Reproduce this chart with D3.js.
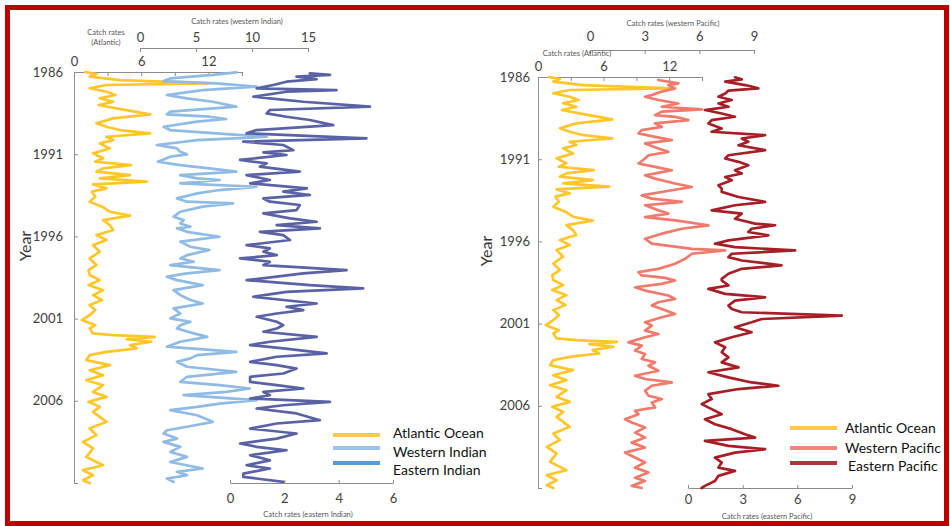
<!DOCTYPE html>
<html lang="en">
<head>
<meta charset="UTF-8">
<title>Catch rates by ocean</title>
<script src="https://d3js.org/d3.v7.min.js"></script>
<style>
  body { margin: 0; background: #fff; }
  svg { display: block; font-family: Lato, "Open Sans", sans-serif; }
  .axis path, .axis line { stroke: #8c8c8c; stroke-width: 1; }
  .axis text { fill: #404040; font-size: 13px; font-family: Lato, sans-serif; }
  .small-title { fill: #555; font-size: 7.5px; }
  .year-title { fill: #333; font-size: 16px; }
  .series { fill: none; stroke-width: 2.7; stroke-linejoin: round; stroke-linecap: round; }
  .legend text { font-size: 14px; fill: #111; }
</style>
</head>
<body>
<div id="chart"></div>
<script>
// [year, catch rate] turning points
const atlantic = [[1986.00,1.0],[1986.12,2.0],[1986.28,1.4],[1986.49,4.1],[1986.69,12.1],[1986.79,2.9],[1986.99,1.4],[1987.20,2.9],[1987.40,3.7],[1987.60,2.3],[1987.81,3.5],[1988.01,2.2],[1988.21,3.8],[1988.58,6.8],[1988.82,3.5],[1989.12,2.0],[1989.33,2.9],[1989.53,4.1],[1989.73,6.8],[1989.94,2.9],[1990.14,3.5],[1990.34,2.3],[1990.65,3.2],[1990.95,1.7],[1991.25,2.6],[1991.46,1.9],[1991.66,5.1],[1991.86,2.6],[1992.06,2.0],[1992.27,5.0],[1992.47,2.3],[1992.67,6.5],[1992.84,1.7],[1993.08,2.9],[1993.28,1.6],[1993.59,1.9],[1993.89,1.4],[1994.19,2.5],[1994.50,3.2],[1994.74,5.0],[1995.01,2.6],[1995.31,3.2],[1995.61,3.5],[1995.92,2.0],[1996.22,2.9],[1996.53,1.7],[1996.93,2.3],[1997.34,1.4],[1997.74,2.0],[1998.05,1.3],[1998.35,1.4],[1998.66,2.3],[1998.96,1.3],[1999.27,2.6],[1999.57,1.7],[1999.87,2.5],[2000.18,1.4],[2000.48,1.9],[2000.79,1.4],[2001.09,0.7],[2001.40,1.9],[2001.60,1.4],[2001.90,1.7],[2002.00,3.5],[2002.11,7.2],[2002.25,4.7],[2002.41,6.9],[2002.61,5.0],[2002.81,5.6],[2003.02,2.9],[2003.22,1.4],[2003.53,1.1],[2003.83,3.2],[2004.14,1.4],[2004.44,2.6],[2004.75,1.1],[2005.05,2.6],[2005.46,1.7],[2005.76,2.9],[2006.06,1.3],[2006.37,2.3],[2006.67,1.7],[2007.28,2.9],[2007.69,1.4],[2008.09,2.0],[2008.50,0.8],[2008.90,1.7],[2009.41,1.1],[2009.92,2.6],[2010.22,0.8],[2010.53,1.7],[2010.83,0.8],[2011.00,1.4]];

const westernIndian = [[1986.02,8.6],[1986.18,6.5],[1986.39,2.7],[1986.55,2.1],[1986.69,6.8],[1986.89,10.4],[1987.10,5.6],[1987.40,2.4],[1987.60,4.2],[1987.81,6.5],[1988.11,8.6],[1988.41,2.7],[1988.58,2.4],[1988.72,6.2],[1988.86,7.7],[1989.02,5.1],[1989.33,2.1],[1989.53,2.7],[1989.73,6.8],[1989.94,11.3],[1990.14,5.1],[1990.44,1.5],[1990.65,3.3],[1990.85,3.6],[1991.01,4.2],[1991.15,2.7],[1991.46,1.6],[1991.66,3.6],[1991.86,6.2],[1992.06,8.6],[1992.27,3.6],[1992.47,5.1],[1992.57,7.1],[1992.77,3.6],[1992.98,10.4],[1993.18,7.1],[1993.38,5.1],[1993.69,3.3],[1993.89,4.2],[1993.99,8.3],[1994.19,5.6],[1994.50,3.6],[1994.80,3.0],[1995.01,3.9],[1995.21,3.6],[1995.41,4.5],[1995.51,3.3],[1995.72,4.2],[1996.02,7.1],[1996.32,3.6],[1996.63,4.5],[1996.83,6.2],[1997.14,4.2],[1997.34,3.6],[1997.54,4.8],[1997.75,2.7],[1998.05,7.1],[1998.25,4.2],[1998.45,2.4],[1998.66,3.3],[1998.96,5.6],[1999.27,3.0],[1999.57,3.6],[1999.87,4.5],[2000.08,5.6],[2000.38,3.0],[2000.69,3.6],[2000.99,2.7],[2001.19,4.5],[2001.40,3.6],[2001.60,3.3],[2001.90,4.8],[2002.11,6.0],[2002.41,3.6],[2002.71,2.4],[2003.02,8.6],[2003.22,5.1],[2003.42,4.5],[2003.63,3.3],[2003.93,4.2],[2004.24,8.6],[2004.54,4.2],[2004.85,3.6],[2005.05,7.1],[2005.25,9.8],[2005.46,7.7],[2005.66,3.9],[2005.96,10.4],[2006.17,7.1],[2006.37,5.1],[2006.57,2.7],[2006.88,5.1],[2007.28,6.5],[2007.58,4.2],[2007.79,2.4],[2007.99,2.1],[2008.30,3.3],[2008.50,2.1],[2008.80,3.6],[2009.11,2.7],[2009.41,4.2],[2009.72,2.7],[2010.12,5.6],[2010.32,3.3],[2010.53,4.2],[2010.73,2.4],[2010.93,3.0]];

const easternIndian = [[1986.08,2.94],[1986.18,3.68],[1986.28,2.45],[1986.43,3.19],[1986.59,2.08],[1986.79,1.59],[1986.99,0.98],[1987.10,3.92],[1987.20,2.08],[1987.50,0.86],[1987.60,1.47],[1987.81,2.70],[1988.11,5.15],[1988.31,1.47],[1988.52,1.35],[1988.72,2.08],[1988.92,2.94],[1989.23,3.80],[1989.53,0.98],[1989.73,0.61],[1990.04,5.02],[1990.24,0.49],[1990.44,1.96],[1990.75,2.33],[1990.89,1.23],[1991.05,2.08],[1991.35,0.37],[1991.56,1.35],[1991.76,1.10],[1992.06,2.57],[1992.27,0.61],[1992.57,1.47],[1992.77,0.74],[1993.08,2.83],[1993.28,1.96],[1993.48,2.94],[1993.69,1.23],[1993.89,1.47],[1994.09,2.57],[1994.40,2.45],[1994.60,1.23],[1994.90,2.21],[1995.11,3.19],[1995.31,1.72],[1995.51,3.31],[1995.72,1.10],[1995.92,1.96],[1996.22,2.21],[1996.53,0.61],[1996.73,1.47],[1996.93,1.23],[1997.14,1.72],[1997.34,0.37],[1997.54,1.47],[1997.75,1.23],[1998.05,4.29],[1998.25,2.70],[1998.45,1.72],[1998.66,0.61],[1998.96,2.94],[1999.16,4.90],[1999.37,2.08],[1999.67,0.86],[1999.87,1.96],[2000.08,3.19],[2000.28,2.08],[2000.48,2.70],[2000.69,1.72],[2000.89,0.98],[2001.19,1.72],[2001.40,1.96],[2001.60,1.72],[2001.80,1.23],[2002.11,3.19],[2002.41,1.47],[2002.61,0.74],[2002.81,1.96],[2003.12,3.56],[2003.32,1.72],[2003.63,0.74],[2003.83,1.72],[2004.04,2.45],[2004.34,1.96],[2004.54,0.74],[2004.85,0.74],[2005.05,1.72],[2005.25,2.70],[2005.46,1.23],[2005.66,1.47],[2005.86,0.74],[2006.06,3.68],[2006.27,1.96],[2006.47,0.98],[2006.77,2.45],[2007.18,3.31],[2007.38,1.72],[2007.69,0.74],[2007.99,2.45],[2008.30,1.72],[2008.60,0.37],[2008.80,0.98],[2009.01,2.08],[2009.31,0.74],[2009.62,1.47],[2009.92,0.61],[2010.12,1.47],[2010.43,0.49],[2010.63,0.49],[2010.93,1.96]];

const westernPacific = [[1986.18,3.75],[1986.39,4.85],[1986.49,4.30],[1986.69,4.67],[1986.89,3.94],[1987.10,3.39],[1987.20,3.02],[1987.40,3.75],[1987.61,4.85],[1987.81,3.94],[1987.97,6.14],[1988.11,3.94],[1988.32,3.57],[1988.42,4.67],[1988.62,5.40],[1988.82,3.57],[1989.03,3.94],[1989.23,2.84],[1989.43,2.66],[1989.64,3.57],[1989.84,4.49],[1990.04,3.02],[1990.35,3.75],[1990.55,4.30],[1990.76,3.21],[1990.96,3.02],[1991.26,2.66],[1991.47,3.57],[1991.67,4.49],[1991.98,3.02],[1992.18,3.57],[1992.48,4.67],[1992.69,5.59],[1992.89,4.49],[1993.20,2.84],[1993.40,3.39],[1993.60,5.04],[1993.80,3.02],[1994.11,3.75],[1994.31,4.30],[1994.52,3.02],[1994.72,4.67],[1995.02,6.50],[1995.23,5.04],[1995.53,3.94],[1995.84,3.02],[1996.14,3.39],[1996.45,5.59],[1996.55,7.42],[1996.75,5.59],[1997.06,5.22],[1997.36,4.67],[1997.67,3.75],[1997.87,2.66],[1998.07,2.84],[1998.22,4.12],[1998.38,4.67],[1998.58,3.94],[1998.79,2.47],[1998.99,3.02],[1999.29,4.30],[1999.50,4.67],[1999.70,3.75],[1999.90,3.39],[2000.11,3.94],[2000.41,4.67],[2000.61,3.94],[2000.92,3.02],[2001.12,3.39],[2001.43,3.02],[2001.63,3.75],[2001.83,3.02],[2002.14,2.11],[2002.34,2.84],[2002.64,2.47],[2002.85,3.02],[2003.15,2.84],[2003.36,3.57],[2003.56,3.21],[2003.87,3.75],[2004.17,2.47],[2004.37,3.02],[2004.58,4.49],[2004.78,3.39],[2005.09,3.02],[2005.39,3.21],[2005.59,3.94],[2005.80,3.39],[2006.10,3.57],[2006.30,2.47],[2006.51,2.66],[2006.82,1.92],[2007.02,2.29],[2007.32,3.02],[2007.63,2.47],[2007.93,3.02],[2008.24,2.29],[2008.54,3.02],[2008.85,1.92],[2009.15,2.47],[2009.45,3.02],[2009.76,2.47],[2010.06,3.21],[2010.37,2.47],[2010.57,3.02],[2010.87,2.29],[2011.00,2.84]];

const easternPacific = [[1986.02,2.58],[1986.14,2.95],[1986.28,2.04],[1986.49,3.13],[1986.69,3.86],[1986.83,2.22],[1987.00,2.04],[1987.20,1.67],[1987.40,2.40],[1987.61,1.67],[1987.81,2.22],[1988.01,0.93],[1988.22,1.85],[1988.42,2.58],[1988.62,1.30],[1988.83,1.12],[1989.13,1.85],[1989.33,1.30],[1989.54,4.23],[1989.74,2.95],[1989.94,3.31],[1990.15,2.77],[1990.45,4.23],[1990.76,2.22],[1990.96,2.04],[1991.16,2.77],[1991.37,3.31],[1991.67,2.58],[1991.87,2.95],[1992.08,2.04],[1992.28,2.40],[1992.59,1.67],[1992.79,1.85],[1992.99,1.85],[1993.30,2.77],[1993.60,4.23],[1993.80,2.58],[1994.11,1.30],[1994.31,2.95],[1994.62,2.58],[1994.92,3.68],[1995.02,4.78],[1995.23,3.49],[1995.43,3.31],[1995.63,4.41],[1995.94,2.22],[1996.14,1.48],[1996.35,2.58],[1996.55,5.88],[1996.75,2.40],[1996.96,2.22],[1997.16,2.95],[1997.46,5.13],[1997.67,2.95],[1997.97,2.22],[1998.28,1.85],[1998.38,1.85],[1998.68,2.22],[1998.89,1.12],[1999.19,2.04],[1999.40,4.23],[1999.60,2.58],[1999.90,2.22],[2000.11,2.40],[2000.31,2.95],[2000.51,8.44],[2000.72,4.05],[2000.92,3.49],[2001.22,2.58],[2001.53,3.49],[2001.83,2.40],[2002.14,1.48],[2002.44,2.04],[2002.74,1.85],[2003.05,2.22],[2003.36,1.85],[2003.66,2.77],[2003.96,1.12],[2004.27,2.22],[2004.58,3.49],[2004.78,4.96],[2004.98,2.77],[2005.29,1.12],[2005.59,1.30],[2005.90,0.75],[2006.20,1.30],[2006.51,1.85],[2006.82,0.93],[2007.12,1.48],[2007.42,2.40],[2007.73,3.13],[2007.93,3.68],[2008.13,0.93],[2008.44,2.22],[2008.64,4.23],[2008.85,2.58],[2009.15,1.48],[2009.45,1.85],[2009.76,1.67],[2009.96,2.58],[2010.26,1.67],[2010.57,1.48],[2010.87,0.93],[2011.00,0.75]];

const yearTicks = [1986, 1991, 1996, 2001, 2006, 2011];
const atlanticTicks = [0, 3, 6, 9, 12, 15];
const indianWestTicks = [0, 5, 10, 15];
const indianEastTicks = [0, 2, 4, 6];
const pacificTicks = [0, 3, 6, 9];

const colors = {
  atlantic: "#ffc62a",
  westernIndian: "#8fbbe4",
  easternIndian: "#5a62a6",
  westernPacific: "#f07a6c",
  easternPacific: "#a61f27"
};

const W = 950, H = 526;
const svg = d3.select("#chart").append("svg")
  .attr("width", W).attr("height", H);

// red frame around the figure
svg.append("rect")
  .attr("x", 7.5).attr("y", 7.5)
  .attr("width", 939).attr("height", 516)
  .attr("fill", "none")
  .attr("stroke", "#c00000")
  .attr("stroke-width", 5);

function yearAxis(y, x, pad) {
  svg.append("g")
    .attr("class", "axis")
    .attr("transform", `translate(${x},0)`)
    .call(d3.axisLeft(y).tickValues(yearTicks)
      .tickFormat(d => d === 2011 ? "" : d)
      .tickSize(-4).tickSizeOuter(0).tickPadding(pad));
}

function valueAxis(scale, pos, top, ticks, labels, pad) {
  const ax = (top ? d3.axisTop(scale) : d3.axisBottom(scale))
    .tickValues(ticks)
    .tickFormat(d => labels.includes(d) ? d : "")
    .tickSize(top ? -4 : -3).tickSizeOuter(0).tickPadding(pad);
  svg.append("g")
    .attr("class", "axis")
    .attr("transform", `translate(0,${pos})`)
    .call(ax);
}

function series(data, x, y, color) {
  const line = d3.line().x(d => x(d[1])).y(d => y(d[0]));
  svg.append("path")
    .datum(data)
    .attr("class", "series")
    .attr("stroke", color)
    .attr("d", line);
}

function smallText(x, y, txt) {
  svg.append("text").attr("class", "small-title")
    .attr("x", x).attr("y", y)
    .attr("text-anchor", "middle").text(txt);
}

// legend: swatch line, then its label (label rows are spaced a bit wider than the swatches)
function legend(x, tx, items) {
  const g = svg.append("g").attr("class", "legend");
  items.forEach(it => {
    g.append("line")
      .attr("x1", x).attr("x2", x + 47)
      .attr("y1", it.y).attr("y2", it.y)
      .attr("stroke", it.color).attr("stroke-width", 4);
    g.append("text")
      .attr("x", tx + (it.dx || 0)).attr("y", it.ty)
      .text(it.label);
  });
}

// ---------- left panel: Atlantic and Indian ----------
const yL = d3.scaleLinear().domain([1986, 2011]).range([72, 483]);
const xAtlL = d3.scaleLinear().domain([0, 15]).range([74, 242]);
const xWI = d3.scaleLinear().domain([0, 15]).range([140, 308]);
const xEI = d3.scaleLinear().domain([0, 6]).range([230, 393]);

yearAxis(yL, 74, 11);
valueAxis(xAtlL, 72, true, atlanticTicks, [0, 6, 12], 6);
valueAxis(xWI, 48, true, indianWestTicks, indianWestTicks, 6);
valueAxis(xEI, 483, false, indianEastTicks, indianEastTicks, 11);

series(atlantic, xAtlL, yL, colors.atlantic);
series(westernIndian, xWI, yL, colors.westernIndian);
series(easternIndian, xEI, yL, colors.easternIndian);

smallText(237, 24, "Catch rates (western Indian)");
smallText(106, 35, "Catch rates");
smallText(106, 45, "(Atlantic)");
smallText(308, 517, "Catch rates (eastern Indian)");

svg.append("text").attr("class", "year-title")
  .attr("transform", "translate(31,246) rotate(-90)")
  .attr("text-anchor", "middle").text("Year");

legend(333, 393, [
  { y: 435, ty: 438, color: "#ffc94a", label: "Atlantic Ocean" },
  { y: 448, ty: 457, color: "#9dc3e6", label: "Western Indian" },
  { y: 463, ty: 475, color: "#5b9bd5", label: "Eastern Indian" }
]);

// ---------- right panel: Atlantic and Pacific ----------
const yR = d3.scaleLinear().domain([1986, 2011]).range([77, 488]);
const xAtlR = d3.scaleLinear().domain([0, 15]).range([538, 702]);
const xWP = d3.scaleLinear().domain([0, 9]).range([590, 754]);
const xEP = d3.scaleLinear().domain([0, 9]).range([688, 852]);

yearAxis(yR, 538, 8);
valueAxis(xAtlR, 77, true, atlanticTicks, [0, 6, 12], 6);
valueAxis(xWP, 50, true, pacificTicks, pacificTicks, 9);
valueAxis(xEP, 488, false, pacificTicks, pacificTicks, 7);

series(atlantic, xAtlR, yR, colors.atlantic);
series(westernPacific, xWP, yR, colors.westernPacific);
series(easternPacific, xEP, yR, colors.easternPacific);

smallText(673, 26, "Catch rates (western Pacific)");
smallText(577, 56, "Catch rates (Atlantic)");
smallText(767, 519, "Catch rates (eastern Pacific)");

svg.append("text").attr("class", "year-title")
  .attr("transform", "translate(492,251) rotate(-90)")
  .attr("text-anchor", "middle").text("Year");

legend(790, 845, [
  { y: 428, ty: 433, color: "#ffc94a", label: "Atlantic Ocean" },
  { y: 448, ty: 453, color: "#f4877a", label: "Western Pacific" },
  { y: 463, ty: 471, color: "#b0343a", label: "Eastern Pacific", dx: 3 }
]);
</script>
</body>
</html>
